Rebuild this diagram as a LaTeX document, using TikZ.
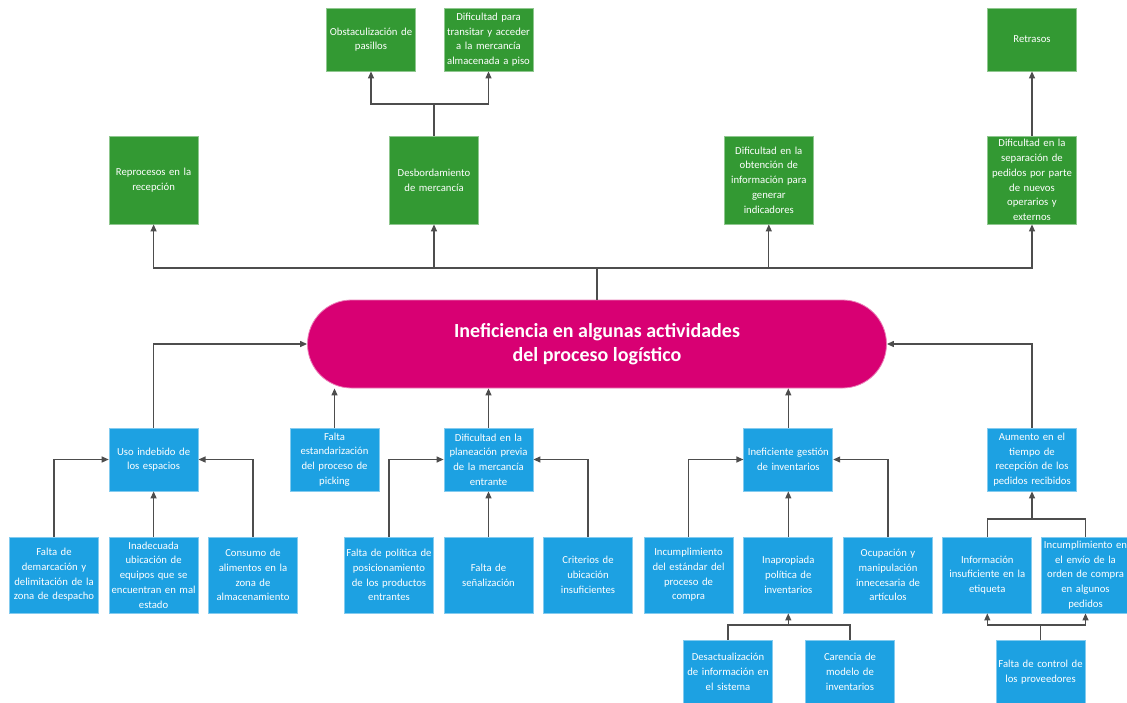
\documentclass[tikz,border=0pt]{standalone}
\usepackage{fontspec}
\setmainfont{Carlito}
\usetikzlibrary{arrows.meta, positioning}
\usepackage{xcolor}
\definecolor{effgreen}{RGB}{51,153,51}
\definecolor{causeblue}{RGB}{29,161,226}
\definecolor{probpink}{RGB}{216,0,115}
\definecolor{linegray}{RGB}{77,77,77}
\tikzset{
  effect/.style = {rectangle, draw=effgreen!55!white, line width=0.8pt, fill=effgreen, text=white, minimum width=89pt, text width=88pt, inner sep=0pt, align=center, font=\fontsize{10.7}{14.7}\selectfont},
  cause/.style = {rectangle, draw=causeblue!55!white, line width=0.8pt, fill=causeblue, text=white, minimum width=89pt, text width=88pt, inner sep=0pt, align=center, font=\fontsize{10.7}{14.7}\selectfont},
  problem/.style = {rectangle, rounded corners=44pt, draw=probpink!50!white, line width=0.8pt, fill=probpink, text=white, minimum width=579pt, minimum height=88pt, align=center, font=\fontsize{20}{24}\selectfont\bfseries},
  arrow/.style = {-{Triangle[length=7pt, width=6pt]}, linegray, line width=1.2pt},
  plain/.style = {linegray, line width=1.2pt}
}

\begin{document}
\begin{tikzpicture}[x=1pt, y=-1pt]

\fill[white] (0,0) rectangle (1127,702);
\useasboundingbox (0,0) rectangle (1127,702);

\node[problem] (main) at (597,344) {Ineficiencia en algunas actividades\\del proceso logístico};

\node[effect, minimum height=63pt] (obst) at (371,39.5) {Obstaculización de\\pasillos};
\node[effect, minimum height=63pt] (transitar) at (488.5,39.5) {Dificultad para\\transitar y acceder\\a la mercancía\\almacenada a piso};
\node[effect, minimum height=63pt] (retrasos) at (1032,39.5) {Retrasos};
\node[effect, minimum height=88pt] (reprocesos) at (153.6,180) {Reprocesos en la\\recepción};
\node[effect, minimum height=88pt] (desborde) at (434,180) {Desbordamiento\\de mercancía};
\node[effect, minimum height=88pt] (obtencion) at (768.8,180) {Dificultad en la\\obtención de\\información para\\generar\\indicadores};
\node[effect, minimum height=88pt] (separacion) at (1032,180) {Dificultad en la\\separación de\\pedidos por parte\\de nuevos\\operarios y\\externos};

\node[cause, minimum height=63pt] (uso) at (153.6,459.5) {Uso indebido de\\los espacios};
\node[cause, minimum height=63pt] (picking) at (334.5,459.5) {Falta\\estandarización\\del proceso de\\picking};
\node[cause, minimum height=63pt] (planeacion) at (488.5,459.5) {Dificultad en la\\planeación previa\\de la mercancía\\entrante};
\node[cause, minimum height=63pt] (gestion) at (788.3,459.5) {Ineficiente gestión\\de inventarios};
\node[cause, minimum height=63pt] (aumento) at (1032,459.5) {Aumento en el\\tiempo de\\recepción de los\\pedidos recibidos};

\node[cause, minimum height=76pt] (demarcacion) at (54,575) {Falta de\\demarcación y\\delimitación de la\\zona de despacho};
\node[cause, minimum height=76pt] (ubicacion) at (153.6,575) {Inadecuada\\ubicación de\\equipos que se\\encuentran en mal\\estado};
\node[cause, minimum height=76pt] (consumo) at (253,575) {Consumo de\\alimentos en la\\zona de\\almacenamiento};
\node[cause, minimum height=76pt] (politica) at (389,575) {Falta de política de\\posicionamiento\\de los productos\\entrantes};
\node[cause, minimum height=76pt] (senal) at (488.5,575) {Falta de\\señalización};
\node[cause, minimum height=76pt] (criterios) at (588,575) {Criterios de\\ubicación\\insuficientes};
\node[cause, minimum height=76pt] (estandar) at (688.5,575) {Incumplimiento\\del estándar del\\proceso de\\compra};
\node[cause, minimum height=76pt] (inapropiada) at (788.3,575) {Inapropiada\\política de\\inventarios};
\node[cause, minimum height=76pt] (ocupacion) at (888,575) {Ocupación y\\manipulación\\innecesaria de\\artículos};
\node[cause, minimum height=76pt] (etiqueta) at (987.3,575) {Información\\insuficiente en la\\etiqueta};
\node[cause, minimum height=76pt] (envio) at (1085.5,575) {Incumplimiento en\\el envío de la\\orden de compra\\en algunos\\pedidos};

\node[cause, minimum height=63pt] (desact) at (728,672) {Desactualización\\de información en\\el sistema};
\node[cause, minimum height=63pt] (carencia) at (850,672) {Carencia de\\modelo de\\inventarios};
\node[cause, minimum height=63pt] (control) at (1040.5,672) {Falta de control de\\los proveedores};

\coordinate (bus) at (597,268);
\coordinate (jtop) at (434,104);
\coordinate (jinv) at (788.3,625);
\coordinate (jaum) at (1032,519);
\coordinate (jctl) at (1040.5,625);

\draw[plain] (main.north) -- (bus);
\draw[arrow] (bus) -| (reprocesos.south);
\draw[arrow] (bus) -| (desborde.south);
\draw[arrow] (bus) -| (obtencion.south);
\draw[arrow] (bus) -| (separacion.south);
\draw[plain] (desborde.north) -- (jtop);
\draw[arrow] (jtop) -| (obst.south);
\draw[arrow] (jtop) -| (transitar.south);
\draw[arrow] (separacion.north) -- (retrasos.south);

\draw[arrow] (uso.north) |- (main.west);
\draw[arrow] (picking.north) -- (picking.north |- main.south);
\draw[arrow] (planeacion.north) -- (planeacion.north |- main.south);
\draw[arrow] (gestion.north) -- (gestion.north |- main.south);
\draw[arrow] (aumento.north) |- (main.east);

\draw[arrow] (demarcacion.north) |- (uso.west);
\draw[arrow] (ubicacion.north) -- (uso.south);
\draw[arrow] (consumo.north) |- (uso.east);
\draw[arrow] (politica.north) |- (planeacion.west);
\draw[arrow] (senal.north) -- (planeacion.south);
\draw[arrow] (criterios.north) |- (planeacion.east);
\draw[arrow] (estandar.north) |- (gestion.west);
\draw[arrow] (inapropiada.north) -- (gestion.south);
\draw[arrow] (ocupacion.north) |- (gestion.east);

\draw[plain] (desact.north) |- (jinv) -| (carencia.north);
\draw[arrow] (jinv) -- (inapropiada.south);
\draw[plain] (etiqueta.north) |- (jaum) -| (envio.north);
\draw[arrow] (jaum) -- (aumento.south);
\draw[plain] (control.north) -- (jctl);
\draw[arrow] (jctl) -| (etiqueta.south);
\draw[arrow] (jctl) -| (envio.south);

\end{tikzpicture}
\end{document}
